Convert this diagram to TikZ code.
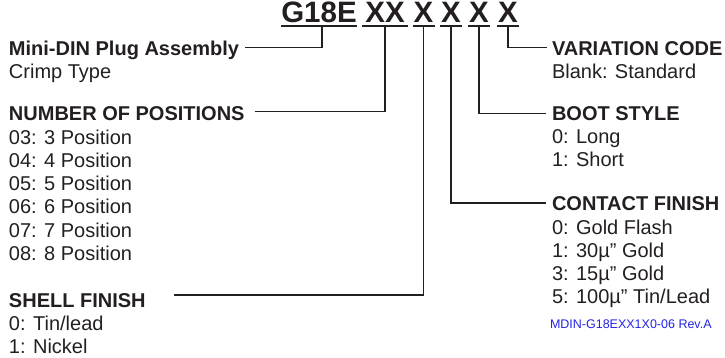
\documentclass[tikz,border=0pt]{standalone}
\usepackage{fontspec}
\setmainfont{Liberation Sans}
\definecolor{ink}{HTML}{231F20}
\definecolor{refblue}{HTML}{2323E6}
\begin{document}
\begin{tikzpicture}[x=1pt,y=-1pt,
  every node/.style={inner sep=0pt, outer sep=0pt, anchor=base west, text=ink},
  head/.style={font=\fontsize{20}{23}\selectfont\bfseries, text height=14.3pt, text depth=0pt},
  item/.style={font=\fontsize{20}{23}\selectfont},
  codeseg/.style={font=\fontsize{29.5}{32}\selectfont\bfseries, anchor=base, text height=21pt, text depth=0pt},
  wire/.style={draw=ink, line width=1.3pt},
  uline/.style={draw=ink, line width=2pt}]
\useasboundingbox (0,0) rectangle (725,358);
% part number segments
\node[codeseg, minimum width=74pt] (g18e) at (319,23) {G18E};
\node[codeseg, minimum width=46pt] (xx) at (385,23) {XX};
\node[codeseg, minimum width=22pt] (xa) at (423.5,23) {X};
\node[codeseg, minimum width=22pt] (xb) at (451,23) {X};
\node[codeseg, minimum width=22pt] (xc) at (479,23) {X};
\node[codeseg, minimum width=22pt] (xd) at (508,23) {X};
\foreach \n in {g18e,xx,xa,xb,xc,xd}
  \draw[uline] ([yshift=-3pt]\n.south west) -- ([yshift=-3pt]\n.south east);
% left column
\node[head] (mini) at (9,56) {Mini-DIN Plug Assembly};
\node[item] (crimp) at (9,79) {Crimp Type};
\node[head] (npos) at (9,121) {NUMBER OF POSITIONS};
\node[item] (p3) at (9,145) {03: 3 Position};
\node[item] (p4) at (9,168) {04: 4 Position};
\node[item] (p5) at (9,191) {05: 5 Position};
\node[item] (p6) at (9,214) {06: 6 Position};
\node[item] (p7) at (9,237) {07: 7 Position};
\node[item] (p8) at (9,260) {08: 8 Position};
\node[head] (shell) at (9,307) {SHELL FINISH};
\node[item] (s0) at (9,330) {0: Tin/lead};
\node[item] (s1) at (9,353) {1: Nickel};
% right column
\node[head] (var) at (552,56) {VARIATION CODE};
\node[item] (blank) at (552,79) {Blank: Standard};
\node[head] (boot) at (552,121) {BOOT STYLE};
\node[item] (b0) at (552,144) {0: Long};
\node[item] (b1) at (552,167) {1: Short};
\node[head] (contact) at (552,211) {CONTACT FINISH};
\node[item] (c0) at (552,234) {0: Gold Flash};
\node[item] (c1) at (552,257) {1: 30µ” Gold};
\node[item] (c3) at (552,280) {3: 15µ” Gold};
\node[item] (c5) at (552,303) {5: 100µ” Tin/Lead};
\node[font=\fontsize{12.5}{14}\selectfont, text=refblue] (rev) at (550,328) {MDIN-G18EXX1X0-06 Rev.A};
% connectors
\draw[wire] ([xshift=3pt,yshift=-4pt]g18e.south) |- ([xshift=6pt,yshift=1pt]mini.east);
\draw[wire] ([yshift=-4pt]xx.south) |- ([xshift=10pt,yshift=2pt]npos.east);
\draw[wire] ([yshift=-4pt]xa.south) |- ([xshift=28pt,yshift=5pt]shell.east);
\draw[wire] ([yshift=-4pt]xb.south) |- ([xshift=-6pt,yshift=1pt]contact.west);
\draw[wire] ([yshift=-4pt]xc.south) |- ([xshift=-6pt]boot.west);
\draw[wire] ([yshift=-4pt]xd.south) |- ([xshift=-5pt,yshift=1pt]var.west);
\end{tikzpicture}
\end{document}
